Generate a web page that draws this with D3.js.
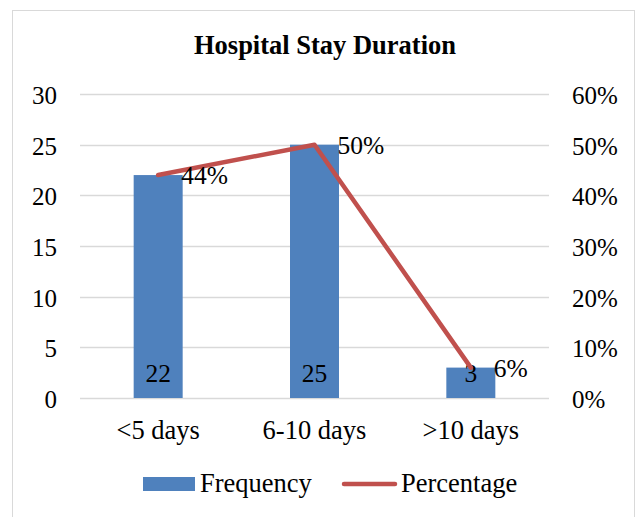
<!DOCTYPE html>
<html lang="en">
<head>
  <meta charset="UTF-8">
  <title>Hospital Stay Duration</title>
  <script src="https://d3js.org/d3.v7.min.js"></script>
  <style>
    body {
      margin: 0;
      background: #fff;
    }
    svg text {
      font-family: "Liberation Serif", "Times New Roman", serif !important;
      fill: #000;
    }
  </style>
</head>
<body>
  <svg width="638" height="517"></svg>

  <script>
    const categories = ["<5 days", "6-10 days", ">10 days"];
    const frequency = [22, 25, 3];
    const percentage = [0.44, 0.50, 0.06];
    const leftTicks = [0, 5, 10, 15, 20, 25, 30];
    const rightTicks = [0, 0.1, 0.2, 0.3, 0.4, 0.5, 0.6];

    const svg = d3.select("svg");

    const plotLeft = 80, plotRight = 549, plotTop = 94, plotBottom = 398;

    // outer frame
    svg.append("rect")
      .attr("x", 12.5).attr("y", 10.5)
      .attr("width", 622).attr("height", 520)
      .attr("fill", "#fff")
      .attr("stroke", "#d9d9d9");

    svg.append("text")
      .attr("x", 325).attr("y", 54)
      .attr("text-anchor", "middle")
      .style("font-size", "26.5px")
      .style("font-weight", "bold")
      .text("Hospital Stay Duration");

    const x = d3.scaleBand()
      .domain(categories)
      .range([plotLeft, plotRight]);

    const y = d3.scaleLinear().domain([0, 30]).range([plotBottom, plotTop]);
    const y2 = d3.scaleLinear().domain([0, 0.6]).range([plotBottom, plotTop]);

    // gridlines
    svg.append("g")
      .selectAll("line")
      .data(leftTicks)
      .enter().append("line")
        .attr("x1", plotLeft).attr("x2", plotRight)
        .attr("y1", d => Math.round(y(d)) + 0.5)
        .attr("y2", d => Math.round(y(d)) + 0.5)
        .attr("stroke", "#d9d9d9")
        .attr("stroke-width", 1.5);

    // left axis
    const yAxis = svg.append("g")
      .attr("transform", `translate(${plotLeft},0)`)
      .call(d3.axisLeft(y).tickValues(leftTicks).tickSize(0).tickPadding(23));
    yAxis.attr("font-family", null);
    yAxis.select(".domain").remove();
    yAxis.selectAll("text")
      .style("font-size", "25px")
      .attr("dy", "0.38em");

    // right axis
    const y2Axis = svg.append("g")
      .attr("transform", `translate(${plotRight},0)`)
      .call(d3.axisRight(y2).tickValues(rightTicks).tickSize(0).tickPadding(23)
        .tickFormat(d3.format(".0%")));
    y2Axis.attr("font-family", null);
    y2Axis.select(".domain").remove();
    y2Axis.selectAll("text")
      .style("font-size", "25px")
      .attr("dy", "0.38em");

    // category labels
    svg.append("g")
      .selectAll("text")
      .data(categories)
      .enter().append("text")
        .attr("x", d => x(d) + x.bandwidth() / 2)
        .attr("y", 439)
        .attr("text-anchor", "middle")
        .style("font-size", "26.5px")
        .text(d => d);

    const barW = 49;

    // bars
    svg.append("g")
      .selectAll("rect")
      .data(frequency)
      .enter().append("rect")
        .attr("x", (d, i) => x(categories[i]) + x.bandwidth() / 2 - barW / 2)
        .attr("y", d => y(d))
        .attr("width", barW)
        .attr("height", d => plotBottom - y(d))
        .attr("fill", "#4f81bd");

    // bar value labels
    svg.append("g")
      .selectAll("text")
      .data(frequency)
      .enter().append("text")
        .attr("x", (d, i) => x(categories[i]) + x.bandwidth() / 2)
        .attr("y", plotBottom - 16)
        .attr("text-anchor", "middle")
        .style("font-size", "25.5px")
        .text(d => d);

    // percentage line
    const line = d3.line()
      .x((d, i) => x(categories[i]) + x.bandwidth() / 2)
      .y(d => y2(d));

    svg.append("path")
      .datum(percentage)
      .attr("d", line)
      .attr("fill", "none")
      .attr("stroke", "#c0504d")
      .attr("stroke-width", 4.5)
      .attr("stroke-linejoin", "round")
      .attr("stroke-linecap", "round");

    svg.append("g")
      .selectAll("text")
      .data(percentage)
      .enter().append("text")
        .attr("x", (d, i) => x(categories[i]) + x.bandwidth() / 2 + 23)
        .attr("y", d => y2(d))
        .attr("dy", "0.35em")
        .style("font-size", "25.5px")
        .text(d => d3.format(".0%")(d));

    // legend
    const legend = svg.append("g");
    legend.append("rect")
      .attr("x", 143).attr("y", 477)
      .attr("width", 52).attr("height", 14)
      .attr("fill", "#4f81bd");
    legend.append("text")
      .attr("x", 200).attr("y", 492)
      .style("font-size", "26.5px")
      .text("Frequency");
    legend.append("line")
      .attr("x1", 344).attr("x2", 395)
      .attr("y1", 484).attr("y2", 484)
      .attr("stroke", "#c0504d")
      .attr("stroke-width", 4.5)
      .attr("stroke-linecap", "round");
    legend.append("text")
      .attr("x", 401).attr("y", 492)
      .style("font-size", "26.5px")
      .text("Percentage");
  </script>
</body>
</html>
